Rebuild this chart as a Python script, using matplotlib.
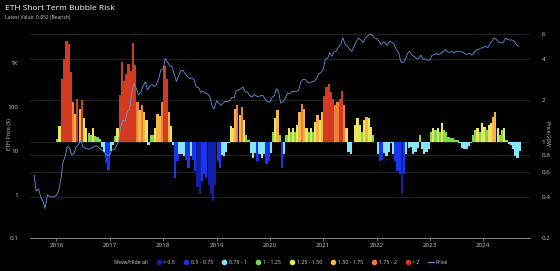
import numpy as np
import pandas as pd
import matplotlib as mpl
mpl.use('Agg')
import matplotlib.pyplot as plt
import matplotlib.dates as mdates
from matplotlib.lines import Line2D

plt.rcParams['font.family'] = ['Open Sans', 'DejaVu Sans']

# Price / 20W SMA ratio, 1st and 15th of each month, Jan 2016 - Sep 2024
ratio_2016 = [1.05, 1.3, 2.85, 4.0, 5.4, 5.1, 3.2, 1.95, 1.6, 2.05, 1.74, 2.0,
              1.48, 1.25, 1.15, 1.12, 1.25, 1.1, 1.08, 1.05, 0.92, 0.85, 0.70, 0.62]
ratio_2017 = [0.86, 0.95, 1.1, 1.25, 2.2, 3.8, 2.75, 3.1, 3.65, 3.25, 5.2, 3.6,
              1.95, 1.7, 1.85, 1.65, 1.45, 0.95, 1.12, 1.12, 1.25, 1.6, 1.55, 1.95]
ratio_2018 = [3.55, 2.85, 1.65, 1.3, 0.95, 0.55, 0.72, 0.82, 0.81, 0.79, 0.74, 0.65,
              0.79, 0.74, 0.61, 0.47, 0.42, 0.52, 0.58, 0.55, 0.49, 0.42, 0.37, 0.49]
ratio_2019 = [0.72, 0.65, 0.80, 0.79, 0.85, 0.98, 1.3, 1.25, 1.74, 1.84, 1.56, 1.79,
              1.44, 1.12, 1.03, 0.83, 0.76, 0.83, 0.72, 0.81, 0.76, 0.81, 0.69, 0.72]
ratio_2020 = [0.83, 1.18, 1.48, 1.69, 1.12, 0.65, 0.81, 1.12, 1.25, 1.18, 1.25, 1.18,
              1.32, 1.65, 1.89, 1.74, 1.25, 1.18, 1.25, 1.18, 1.4, 1.56, 1.44, 1.65]
ratio_2021 = [2.16, 2.48, 2.6, 2.3, 2.05, 1.85, 1.95, 2.05, 2.35, 1.84, 1.25, 0.85,
              0.81, 0.99, 1.32, 1.48, 1.32, 1.18, 1.44, 1.52, 1.48, 1.29, 1.12, 1.0]
ratio_2022 = [0.81, 0.72, 0.74, 0.83, 0.79, 0.85, 0.98, 0.81, 0.72, 0.61, 0.58, 0.42,
              0.58, 0.81, 0.9, 0.92, 0.81, 0.85, 0.9, 1.12, 0.88, 0.81, 0.85, 0.88]
ratio_2023 = [1.18, 1.25, 1.22, 1.25, 1.18, 1.36, 1.22, 1.18, 1.09, 1.06, 1.06, 1.03,
              1.03, 0.98, 0.9, 0.88, 0.88, 0.93, 0.98, 1.12, 1.22, 1.25, 1.18, 1.36]
ratio_2024 = [1.29, 1.22, 1.32, 1.36, 1.5, 1.65, 1.25, 1.12, 1.22, 1.25, 1.03, 0.97,
              0.95, 0.88, 0.79, 0.76, 0.852]

# ETH price ($), 1st and 15th of each month, Aug 2015 - Sep 2024
price_2015 = [2.8, 1.2, 1.35, 0.9, 0.7, 0.48, 1.0, 0.9, 0.88, 0.9]
price_2016 = [0.95, 1.2, 2.3, 5.5, 7.5, 12.5, 11.5, 8.0, 8.8, 12.5, 14.0, 17.5,
              12.5, 11.5, 11.0, 11.0, 12.0, 12.5, 13.2, 12.0, 10.8, 10.0, 8.5, 7.8]
price_2017 = [8.2, 10.5, 10.8, 13.0, 16.5, 35, 50, 48, 80, 90, 230, 350,
              270, 190, 220, 300, 380, 250, 300, 330, 300, 330, 450, 700]
price_2018 = [750, 1300, 1050, 900, 850, 600, 390, 500, 680, 700, 580, 500,
              450, 470, 420, 290, 280, 220, 230, 210, 200, 180, 110, 90]
price_2019 = [140, 125, 110, 125, 135, 135, 140, 165, 165, 240, 250, 260,
              290, 225, 220, 185, 170, 195, 180, 175, 185, 185, 150, 135]
price_2020 = [130, 165, 185, 265, 225, 125, 135, 160, 210, 200, 230, 230,
              230, 240, 385, 430, 430, 365, 360, 380, 395, 450, 590, 610]
price_2021 = [740, 1250, 1350, 1800, 1450, 1850, 1950, 2400, 2750, 3900, 2650, 2500,
              2100, 1900, 2550, 3250, 3800, 3450, 3000, 3800, 4300, 4600, 4600, 3900]
price_2022 = [3700, 3300, 2700, 3100, 2950, 2600, 3250, 3050, 2800, 2050, 1800, 1100,
              1050, 1200, 1700, 1900, 1550, 1450, 1300, 1300, 1550, 1250, 1280, 1180]
price_2023 = [1200, 1550, 1600, 1700, 1600, 1700, 1850, 2100, 1850, 1800, 1880, 1720,
              1930, 1850, 1850, 1830, 1650, 1630, 1710, 1550, 1800, 2050, 2100, 2260]
price_2024 = [2300, 2500, 2300, 2800, 3300, 3850, 3500, 3100, 3000, 2950, 3800, 3550,
              3450, 3450, 3200, 2700, 2500]

ratio = np.array(ratio_2016 + ratio_2017 + ratio_2018 + ratio_2019 + ratio_2020
                 + ratio_2021 + ratio_2022 + ratio_2023 + ratio_2024)
price = np.array(price_2015 + price_2016 + price_2017 + price_2018 + price_2019
                 + price_2020 + price_2021 + price_2022 + price_2023 + price_2024)
ratio_dates = pd.date_range('2016-01-01', periods=len(ratio), freq='SMS')
price_dates = pd.date_range('2015-08-01', periods=len(price), freq='SMS')

bins = [0.5, 0.75, 1, 1.25, 1.5, 1.75, 2]
band_labels = ['< 0.5', '0.5 - 0.75', '0.75 - 1', '1 - 1.25', '1.25 - 1.50',
               '1.50 - 1.75', '1.75 - 2', '> 2']
band_colors = ['#1020a8', '#1a35ee', '#86e6f8', '#7cdc4c', '#ece55a',
               '#f5b445', '#f0803a', '#d33a22']
txt_col = '#c8c8c8'

fig = plt.figure(figsize=(5.6, 2.71), dpi=100, facecolor='black')
ax = fig.add_axes([30/560, 1 - 238.3/271, 500/560, 208.3/271])
ax.set_facecolor('black')

# bars of the ratio, drawn from 1 on the right log axis
cols = [band_colors[i] for i in np.digitize(ratio, bins)]
ax.bar(ratio_dates, ratio - 1, bottom=1, width=16, color=cols, linewidth=0,
       align='edge')
ax.set_yscale('log')
ax.set_ylim(0.2, 6.45)
ax.set_yticks([0.2, 0.4, 0.6, 0.8, 1, 2, 4, 6])
ax.set_yticklabels(['0.2', '0.4', '0.6', '0.8', '1', '2', '4', '6'])
ax.yaxis.set_minor_locator(mpl.ticker.NullLocator())
ax.grid(axis='y', color='#2b2b2b', linewidth=0.6)
ax.set_axisbelow(True)

# price line on the left log axis
ax2 = ax.twinx()
ax2.plot(price_dates, price, color='#6394dc', linewidth=0.6)
ax2.set_yscale('log')
ax2.set_ylim(0.1, 5840)
ax2.set_yticks([0.1, 1, 10, 100, 1000])
ax2.set_yticklabels(['0.1', '1', '10', '100', '1K'])
ax2.yaxis.set_minor_locator(mpl.ticker.NullLocator())

# twinx moves the host ticks to the left, so set sides afterwards
ax.yaxis.tick_right()
ax.yaxis.set_label_position('right')
ax2.yaxis.tick_left()
ax2.yaxis.set_label_position('left')
ax.tick_params(axis='y', which='both', left=False, right=False, labelleft=False,
               labelright=True, labelsize=4.5, labelcolor=txt_col, pad=5)
ax2.tick_params(axis='y', which='both', left=False, right=False, labelleft=True,
                labelright=False, labelsize=4.5, labelcolor=txt_col, pad=5)
ax.set_ylabel('Price/20W', color=txt_col, fontsize=4, rotation=270, va='center')
ax.yaxis.set_label_coords(1.034, 0.5)
ax2.set_ylabel('ETH Price ($)', color=txt_col, fontsize=4, va='center')
ax2.yaxis.set_label_coords(-0.04, 0.5)

for a in (ax, ax2):
    for s in a.spines.values():
        s.set_visible(False)
ax.spines['bottom'].set_visible(True)
ax.spines['bottom'].set_color('#9a9a9a')
ax.spines['bottom'].set_linewidth(0.6)

ax.set_xlim(pd.Timestamp('2015-07-04'), pd.Timestamp('2024-11-16'))
ax.xaxis.set_major_locator(mdates.YearLocator())
ax.xaxis.set_major_formatter(mdates.DateFormatter('%Y'))
ax.tick_params(axis='x', length=2, width=0.5, color='#9a9a9a', labelsize=4.5,
               labelcolor=txt_col, pad=1.5)

fig.text(0.009, 0.968, 'ETH Short Term Bubble Risk', color='white', fontsize=6,
         va='center')
fig.text(0.009, 0.935, 'Latest Value: 0.852 (Bearish)', color='#d0d0d0', fontsize=3.6,
         va='center')

handles = [Line2D([], [], linestyle='none')]
for c in band_colors:
    handles.append(Line2D([], [], linestyle='none', marker='o', markersize=3,
                          markerfacecolor=c, markeredgecolor=c))
handles.append(Line2D([], [], color='#6394dc', linewidth=0.8))
labels = ['Show/Hide all'] + band_labels + ['Price']
leg = fig.legend(handles, labels, loc='center', bbox_to_anchor=(0.495, 0.033),
                 ncol=10, frameon=False, fontsize=3.8, handlelength=1.0,
                 handletextpad=0.4, columnspacing=1.6)
for t in leg.get_texts():
    t.set_color('#d8d8d8')

fig.savefig('out.png', dpi=100, facecolor='black')
